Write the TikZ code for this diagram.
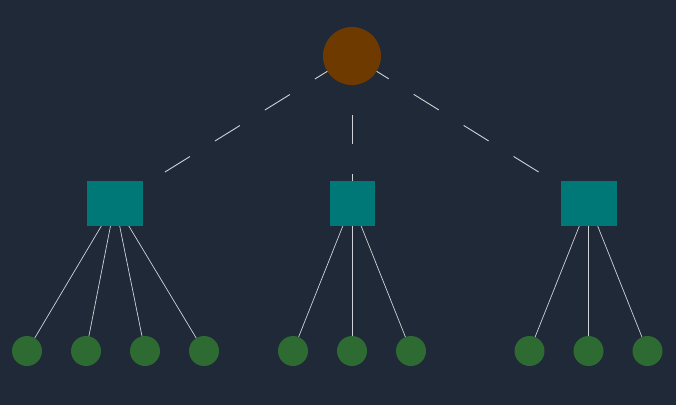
\documentclass[tikz,border=0pt]{standalone}
\usepackage{tikz}
\usetikzlibrary{positioning}
\definecolor{bgnavy}{HTML}{1F2937}
\definecolor{rootbrown}{HTML}{6F3A00}
\definecolor{branchteal}{HTML}{007878}
\definecolor{leafgreen}{HTML}{2E6B32}
\definecolor{linkgray}{HTML}{D0D3D8}
\tikzstyle{rootnode} = [circle, minimum size=58pt, inner sep=0pt, fill=rootbrown]
\tikzstyle{branch} = [rectangle, minimum width=45pt, minimum height=45pt, inner sep=0pt, fill=branchteal]
\tikzstyle{widebranch} = [branch, minimum width=56pt]
\tikzstyle{leaf} = [circle, minimum size=30pt, inner sep=0pt, fill=leafgreen]
\tikzstyle{dashlink} = [draw=linkgray, line width=0.9pt, dash pattern=on 29.4pt off 29.4pt]
\tikzstyle{link} = [draw=linkgray, line width=0.7pt]
\pgfdeclarelayer{bg}
\pgfdeclarelayer{links}
\pgfsetlayers{bg,links,main}

\begin{document}
\begin{tikzpicture}[x=1pt, y=1pt, node distance=59pt]
        \begin{pgfonlayer}{bg}
            \fill [bgnavy] (0,0) rectangle (676,-405);
        \end{pgfonlayer}
        \useasboundingbox (0,0) rectangle (676,-405);

        \node (root) [rootnode] at (352,-56) {};
        \node (bl) [widebranch] at (115,-203) {};
        \node (bm) [branch] at (352,-203) {};
        \node (br) [widebranch] at (588.5,-203) {};

        \node (l1) [leaf] at (27,-351) {};
        \node (l2) [leaf, right of=l1] {};
        \node (l3) [leaf, right of=l2] {};
        \node (l4) [leaf, right of=l3] {};
        \node (m2) [leaf] at (352,-351) {};
        \node (m1) [leaf, left of=m2] {};
        \node (m3) [leaf, right of=m2] {};
        \node (r2) [leaf] at (588.5,-351) {};
        \node (r1) [leaf, left of=r2] {};
        \node (r3) [leaf, right of=r2] {};

        \begin{pgfonlayer}{links}
            \draw [dashlink] (bl.center) -- (root.center);
            \draw [dashlink] (bm.center) -- (root.center);
            \draw [dashlink] (br.center) -- (root.center);
            \foreach \k in {l1,l2,l3,l4}
                \draw [link] (bl.center) -- (\k.center);
            \foreach \k in {m1,m2,m3}
                \draw [link] (bm.center) -- (\k.center);
            \foreach \k in {r1,r2,r3}
                \draw [link] (br.center) -- (\k.center);
        \end{pgfonlayer}
    \end{tikzpicture}
\end{document}
